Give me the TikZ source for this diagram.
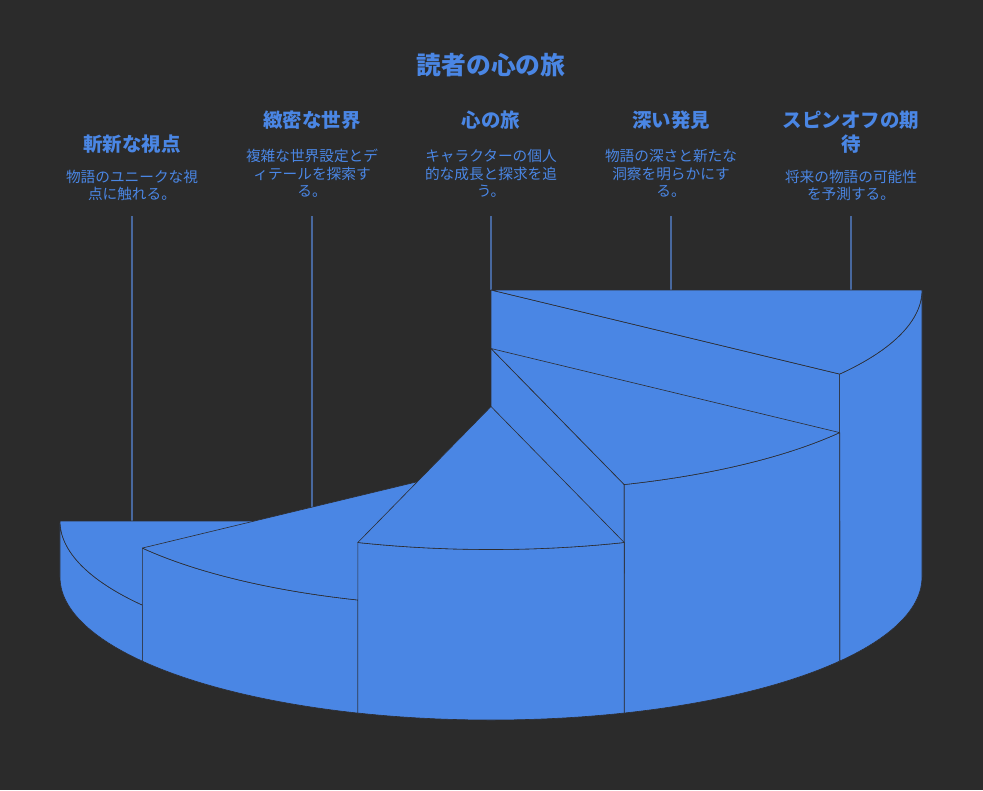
\documentclass[tikz,border=0pt]{standalone}
\usepackage{fontspec}
\newfontfamily\jpfont{Noto Sans CJK JP}
\definecolor{bgdark}{RGB}{43,43,43}
\definecolor{stepblue}{RGB}{74,134,228}
\definecolor{txtblue}{RGB}{74,134,228}
\definecolor{pinblue}{RGB}{72,104,158}
\definecolor{edgedark}{RGB}{44,44,48}

\tikzset{every picture/.style={line width=0.75pt}}

\begin{document}
\begin{tikzpicture}[x=0.75pt,y=0.75pt,yscale=-1,xscale=1,
	face/.style={fill=stepblue,draw=edgedark,line width=0.45pt,line join=round},
	rim/.style={x radius=431,y radius=143},
	pin/.style={draw=pinblue,line width=0.9pt},
	title/.style={font=\jpfont\bfseries\fontsize{18.6}{22}\selectfont,text=txtblue},
	head/.style={font=\jpfont\bfseries\fontsize{14.6}{18}\selectfont,text=txtblue,align=center},
	desc/.style={font=\jpfont\fontsize{11}{13}\selectfont,text=txtblue,align=center}]
	%Background
	\fill[bgdark] (0,0) rectangle (983,790);
	\useasboundingbox (0,0) rectangle (983,790);

	%Straight Lines: pins from the labels down to the steps
	\coordinate (p1) at (132,216);  \coordinate (q1) at (132,521);
	\coordinate (p2) at (312,216);  \coordinate (q2) at (312,507);
	\coordinate (p3) at (491,216);  \coordinate (q3) at (491,290);
	\coordinate (p4) at (671,216);  \coordinate (q4) at (671,290);
	\coordinate (p5) at (851,216);  \coordinate (q5) at (851,290);
	\draw[pin] (p1) -- (q1);
	\draw[pin] (p2) -- (q2);
	\draw[pin] (p3) -- (q3);
	\draw[pin] (p4) -- (q4);
	\draw[pin] (p5) -- (q5);

	%Shape: step 5 (tallest, right)
	\draw[face] (491,290) -- (839.7,374.1) -- (839.7,661.1) -- (491,577) -- cycle;
	\draw[face] (922,290) arc[rim,start angle=0,end angle=36] -- (839.7,661.1) arc[rim,start angle=36,end angle=0] -- cycle;
	\draw[face] (491,290) -- (922,290) arc[rim,start angle=0,end angle=36] -- cycle;
	%Shape: step 4
	\draw[face] (491,348.5) -- (624.2,484.5) -- (624.2,713) -- (491,577) -- cycle;
	\draw[face] (839.7,432.6) arc[rim,start angle=36,end angle=72] -- (624.2,713) arc[rim,start angle=72,end angle=36] -- cycle;
	\draw[face] (491,348.5) -- (839.7,432.6) arc[rim,start angle=36,end angle=72] -- cycle;
	%Shape: step 1 (lowest, left)
	\draw[face] (60,521) arc[rim,start angle=180,end angle=144] -- (142.3,661.1) arc[rim,start angle=144,end angle=180] -- cycle;
	\draw[face] (491,521) -- (60,521) arc[rim,start angle=180,end angle=144] -- cycle;
	%Shape: step 2
	\draw[face] (357.8,600) arc[rim,start angle=108,end angle=144] -- (142.3,661.1) arc[rim,start angle=144,end angle=108] -- cycle;
	\draw[face] (491,464) -- (357.8,600) arc[rim,start angle=108,end angle=144] -- cycle;
	%Shape: step 3 (middle)
	\draw[face] (624.2,542.5) arc[rim,start angle=72,end angle=108] -- (357.8,713) arc[rim,start angle=108,end angle=72] -- cycle;
	\draw[face] (491,406.5) -- (624.2,542.5) arc[rim,start angle=72,end angle=108] -- cycle;

	% Text Node
	\node[title] (ttl) at (491,65) {読者の心の旅};
	% Text Node
	\node[head] (h1) at (132,144) {斬新な視点};
	\node[desc] (d1) at (132,185.5) {物語のユニークな視\\点に触れる。};
	% Text Node
	\node[head] (h2) at (312,120) {緻密な世界};
	\node[desc] (d2) at (312,173.5) {複雑な世界設定とデ\\ィテールを探索す\\る。};
	% Text Node
	\node[head] (h3) at (491,120) {心の旅};
	\node[desc] (d3) at (491,173.5) {キャラクターの個人\\的な成長と探求を追\\う。};
	% Text Node
	\node[head] (h4) at (671,120) {深い発見};
	\node[desc] (d4) at (671,173.5) {物語の深さと新たな\\洞察を明らかにす\\る。};
	% Text Node
	\node[head] (h5) at (851,132) {スピンオフの期\\待};
	\node[desc] (d5) at (851,185.5) {将来の物語の可能性\\を予測する。};

\end{tikzpicture}
\end{document}
